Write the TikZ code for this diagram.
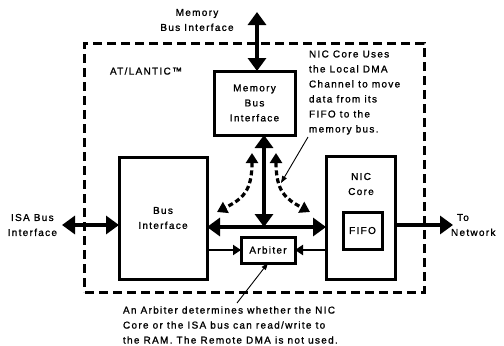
\documentclass[tikz,border=0pt]{standalone}
\usepackage{fontspec}
\setmainfont{Liberation Sans}[LetterSpace=13,FakeBold=1.2]
\usetikzlibrary{arrows.meta}
\begin{document}
\begin{tikzpicture}[x=1bp,y=-1bp,
  every node/.style={inner sep=0pt,outer sep=0pt},
  txt/.style={font=\fontsize{10bp}{15bp}\selectfont},
  blk/.style={draw,line width=3bp,txt,align=center},
  bigarrow/.style={line width=4bp,{Triangle[length=13bp,width=18bp]}-{Triangle[length=13bp,width=18bp]}},
  onearrow/.style={line width=4bp,-{Triangle[length=13bp,width=18bp]}},
  smallarrow/.style={line width=2bp,-{Triangle[length=8bp,width=10bp]}},
  dasharrow/.style={line width=3.2bp,dash pattern=on 5bp off 3bp,{Triangle[length=10bp,width=12bp]}-{Triangle[length=10bp,width=12bp]}},
  notearrow/.style={line width=0.9bp,-{Triangle[length=7bp,width=5bp]}},
]
\useasboundingbox (0,0) rectangle (504,345);
% outer dashed boundary
\node[draw,line width=3bp,dash pattern=on 9bp off 5bp,minimum width=339bp,minimum height=249bp] (outer) at (254.5,167.5) {};
% blocks
\node[blk,minimum width=81bp,minimum height=64bp] (mbi) at (254.5,103) {Memory\\Bus\\Interface};
\node[blk,minimum width=88bp,minimum height=122bp] (bus) at (163,218) {Bus\\Interface};
\node[blk,minimum width=69bp,minimum height=123bp] (nic) at (360.5,217.5) {};
\node[blk,minimum width=39bp,minimum height=37bp] (fifo) at (362.5,230.5) {FIFO};
\node[blk,minimum width=54bp,minimum height=26bp] (arb) at (268,250) {Arbiter};
% labels
\node[txt,align=center] (lmemtop) at (197,20) {Memory\\Bus Interface};
\node[txt,anchor=west] (lat) at (110,71) {AT/LANTIC™};
\node[txt,align=center] (lnic) at (361,184) {NIC\\Core};
\node[txt,align=center,anchor=east] (lisa) at (57,225) {ISA Bus\\Interface};
\node[txt,align=left,anchor=west] (lnet) at (451,225) {\hspace*{6bp}To\\Network};
\node[txt,align=left,anchor=west] (lnote) at (309,92.5) {NIC Core Uses\\the Local DMA\\Channel to move\\data from its\\FIFO to the\\memory bus.};
\node[txt,align=left,anchor=west] (larb) at (123,325) {An Arbiter determines whether the NIC\\Core or the ISA bus can read/write to\\the RAM. The Remote DMA is not used.};
% free ends
\coordinate (memtop) at (257,12);
\coordinate (isaend) at (62,225);
\coordinate (netend) at (453,225);
\coordinate (hbus) at (264,227);
\coordinate (dl) at (217,212);
\coordinate (dlt) at (252,153);
\coordinate (dr) at (310,212);
\coordinate (drt) at (276,153);
\coordinate (notefrom) at (308,137);
\coordinate (noteto) at (281,183);
\coordinate (arbfrom) at (237,303);
% connectors
\draw[bigarrow] (memtop) -- (memtop |- mbi.north);
\draw[bigarrow] (hbus |- mbi.south) -- (hbus);
\draw[bigarrow] (bus.east |- hbus) -- (nic.west |- hbus);
\draw[bigarrow] (isaend) -- (isaend -| bus.west);
\draw[onearrow] (nic.east |- netend) -- (netend);
\draw[smallarrow] (bus.east |- arb.west) -- (arb.west);
\draw[smallarrow] (nic.west |- arb.east) -- (arb.east);
\draw[dasharrow] (dlt) .. controls (252,192) and (242,199) .. (dl);
\draw[dasharrow] (drt) .. controls (276,192) and (286,199) .. (dr);
\draw[notearrow] (notefrom) -- (noteto);
\draw[notearrow] (arbfrom) -- (arb.south);
\end{tikzpicture}
\end{document}
